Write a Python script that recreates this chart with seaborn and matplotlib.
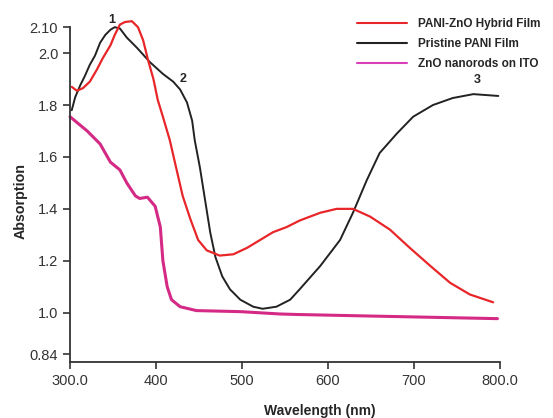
import matplotlib
matplotlib.use("Agg")
import matplotlib.pyplot as plt
import seaborn as sns
from matplotlib.lines import Line2D

sns.set_style("white")
plt.rcParams['font.family'] = ['Liberation Sans', 'DejaVu Sans']

# Pristine PANI film (black)
pani_nm = [302, 306, 312, 317, 323, 329, 335, 341, 347, 352, 358, 366, 378, 393, 408,
           420, 428, 436, 442, 445, 451, 457, 463, 469, 477, 486, 498, 513, 524, 540,
           556, 567, 591, 614, 629, 645, 660, 680, 699, 722, 745, 769, 798]
pani_abs = [1.78, 1.83, 1.877, 1.91, 1.955, 1.99, 2.04, 2.07, 2.09, 2.10, 2.095, 2.06,
            2.02, 1.965, 1.92, 1.89, 1.86, 1.81, 1.74, 1.665, 1.56, 1.435, 1.31, 1.215,
            1.14, 1.09, 1.05, 1.023, 1.015, 1.023, 1.05, 1.09, 1.18, 1.28, 1.385, 1.51,
            1.615, 1.69, 1.755, 1.80, 1.827, 1.842, 1.835]

# PANI-ZnO hybrid film (red)
hyb_nm = [302, 308, 315, 323, 331, 338, 347, 352, 358, 364, 372, 379, 385, 391, 397,
          402, 408, 416, 424, 431, 440, 449, 459, 474, 490, 506, 521, 536, 552, 567,
          591, 610, 629, 649, 672, 695, 719, 742, 765, 792]
hyb_abs = [1.87, 1.855, 1.865, 1.89, 1.935, 1.98, 2.03, 2.07, 2.11, 2.12, 2.123, 2.10,
           2.05, 1.97, 1.90, 1.82, 1.755, 1.665, 1.55, 1.45, 1.36, 1.28, 1.24, 1.22,
           1.225, 1.25, 1.28, 1.31, 1.33, 1.355, 1.385, 1.40, 1.40, 1.37, 1.32, 1.25,
           1.18, 1.115, 1.07, 1.04]

# ZnO nanorods on ITO (magenta)
zno_nm = [300, 320, 335, 347, 358, 366, 376, 381, 390, 399, 405, 408, 413, 418, 428,
          447, 498, 544, 564, 650, 797]
zno_abs = [1.755, 1.70, 1.65, 1.58, 1.55, 1.50, 1.45, 1.44, 1.445, 1.41, 1.33, 1.20,
           1.10, 1.05, 1.023, 1.008, 1.004, 0.995, 0.993, 0.987, 0.977]

labels = ["PANI-ZnO Hybrid Film", "Pristine PANI Film", "ZnO nanorods on ITO"]
colors = ["#e8262a", "#222222", "#d42a85"]

fig = plt.figure(figsize=(5.53, 4.18), dpi=100)
ax = fig.add_axes([0.1266, 0.134, 0.7776, 0.801])

sns.lineplot(x=pani_nm, y=pani_abs, ax=ax, color=colors[1], lw=1.4, clip_on=False)
sns.lineplot(x=hyb_nm, y=hyb_abs, ax=ax, color=colors[0], lw=1.6, clip_on=False)
sns.lineplot(x=zno_nm, y=zno_abs, ax=ax, color=colors[2], lw=2.2, clip_on=False)

ax.set_xlim(300, 800)
ax.set_ylim(0.81, 2.10)
ax.set_xticks([300, 400, 500, 600, 700, 800])
ax.set_xticklabels(["300.0", "400", "500", "600", "700", "800.0"])
ax.set_yticks([0.84, 1.0, 1.2, 1.4, 1.6, 1.8, 2.0, 2.10])
ax.set_yticklabels(["0.84", "1.0", "1.2", "1.4", "1.6", "1.8", "2.0", "2.10"])
ax.tick_params(axis='both', direction='out', length=5, width=1.2, colors='#333333',
               labelsize=10.5, labelcolor='#333333', left=True, bottom=True)
for s in ["top", "right"]:
    ax.spines[s].set_visible(False)
for s in ["left", "bottom"]:
    ax.spines[s].set_color("#333333")
    ax.spines[s].set_linewidth(1.3)

ax.set_xlabel("Wavelength (nm)", fontsize=10, fontweight='bold')
ax.set_ylabel("Absorption", fontsize=10.3, fontweight='bold')
ax.xaxis.set_label_coords(0.58, -0.125)
ax.yaxis.set_label_coords(-0.098, 0.48)

ax.text(348, 2.127, "1", fontsize=9, fontweight='bold', ha='center', va='center')
ax.text(431, 1.90, "2", fontsize=9, fontweight='bold', ha='center', va='center')
ax.text(773, 1.896, "3", fontsize=9, fontweight='bold', ha='center', va='center')

handles = [Line2D([0], [0], color=colors[0], lw=1.5),
           Line2D([0], [0], color=colors[1], lw=1.5),
           Line2D([0], [0], color="#d83fb8", lw=1.5)]
leg = fig.legend(handles, labels, loc='upper left', bbox_to_anchor=(0.627, 0.982),
                 frameon=False, handlelength=4.2, handletextpad=0.9, labelspacing=0.68,
                 prop={'size': 8.5, 'weight': 'bold'})

fig.savefig("out.png", dpi=100)
